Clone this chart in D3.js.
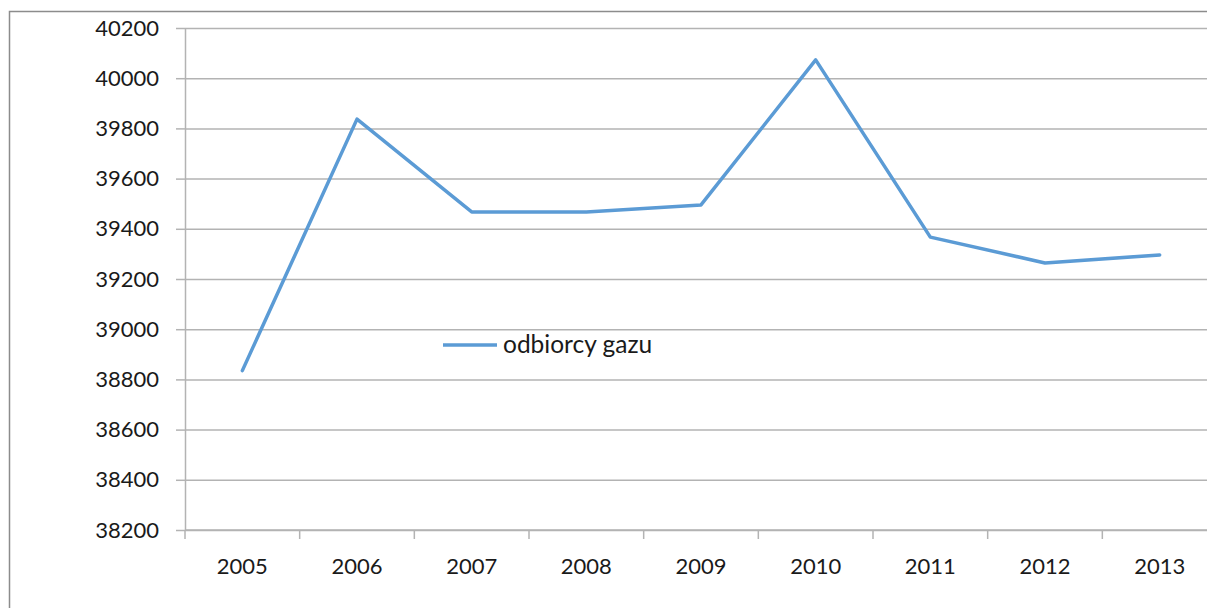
<!DOCTYPE html>
<html>
<head>
<meta charset="utf-8">
<script src="https://cdn.jsdelivr.net/npm/d3@7"></script>
<style>
  body { margin: 0; background: #fff; }
  svg text { font-family: Lato, "Liberation Sans", sans-serif; fill: #1a1a1a; }
</style>
</head>
<body>
<div class="d3-wrapper"></div>
<script>
const years = ['2005', '2006', '2007', '2008', '2009', '2010', '2011', '2012', '2013'];
const customers = [38835, 39837, 39467, 39467, 39495, 40073, 39367, 39264, 39296];
const yTicks = [38200, 38400, 38600, 38800, 39000, 39200, 39400, 39600, 39800, 40000, 40200];
const seriesName = 'odbiorcy gazu';

const WIDTH = 1207, HEIGHT = 608;
const MARGIN = { top: 28, right: -10, bottom: 78, left: 185 };
const INNER_WIDTH = WIDTH - MARGIN.left - MARGIN.right,
  INNER_HEIGHT = HEIGHT - MARGIN.top - MARGIN.bottom;

const GRID = '#b3b3b3';

const svg = d3.select('.d3-wrapper').append('svg')
  .attr('width', WIDTH)
  .attr('height', HEIGHT);

// chart frame (only left and top visible in the picture)
svg.append('rect')
  .attr('x', 9.5).attr('y', 11.5)
  .attr('width', WIDTH + 20).attr('height', HEIGHT + 20)
  .attr('fill', 'none')
  .attr('stroke', '#8c8c8c')
  .attr('stroke-width', 1.5);

const g = svg.append('g')
  .attr('transform', `translate(${MARGIN.left}, ${MARGIN.top})`);

const xScale = d3.scaleBand().domain(years).range([0, INNER_WIDTH]);
const yScale = d3.scaleLinear().domain([38200, 40200]).range([INNER_HEIGHT, 0]);

// horizontal gridlines + y axis
const yAxis = d3.axisLeft(yScale)
  .tickValues(yTicks)
  .tickFormat(d3.format('d'))
  .tickSizeInner(9)
  .tickSizeOuter(0)
  .tickPadding(17);

const yg = g.append('g').call(yAxis);
yg.select('.domain').attr('stroke', GRID).attr('stroke-width', 1.5);
yg.selectAll('.tick line').attr('stroke', GRID).attr('stroke-width', 1.5);
yg.selectAll('.tick text').attr('font-size', 22).attr('fill', '#1a1a1a');
yg.selectAll('.tick').append('line')
  .attr('x1', 0).attr('x2', INNER_WIDTH)
  .attr('stroke', GRID).attr('stroke-width', 1.5);

// x axis with ticks between categories
const xg = g.append('g').attr('transform', `translate(0, ${INNER_HEIGHT})`);
xg.append('line')
  .attr('x1', 0).attr('x2', INNER_WIDTH)
  .attr('stroke', GRID).attr('stroke-width', 1.5);
xg.selectAll('line.sep')
  .data(years)
  .enter()
  .append('line')
  .attr('class', 'sep')
  .attr('x1', d => xScale(d)).attr('x2', d => xScale(d))
  .attr('y1', 0).attr('y2', 9)
  .attr('stroke', GRID).attr('stroke-width', 1.5);
xg.selectAll('text')
  .data(years)
  .enter()
  .append('text')
  .attr('x', d => xScale(d) + xScale.bandwidth() / 2)
  .attr('y', 44)
  .attr('text-anchor', 'middle')
  .attr('font-size', 22)
  .text(d => d);

// the series line
const line = d3.line()
  .x((d, i) => xScale(years[i]) + xScale.bandwidth() / 2)
  .y(d => yScale(d));

g.append('path')
  .datum(customers)
  .attr('d', line)
  .attr('fill', 'none')
  .attr('stroke', '#5b9bd5')
  .attr('stroke-width', 3.5)
  .attr('stroke-linejoin', 'round')
  .attr('stroke-linecap', 'round');

// legend inside plot
const legend = svg.append('g').attr('transform', 'translate(443, 345)');
legend.append('line')
  .attr('x1', 0).attr('x2', 54)
  .attr('stroke', '#5b9bd5')
  .attr('stroke-width', 3.5);
legend.append('text')
  .attr('x', 60)
  .attr('y', 8)
  .attr('font-size', 24.5)
  .text(seriesName);
</script>
</body>
</html>
